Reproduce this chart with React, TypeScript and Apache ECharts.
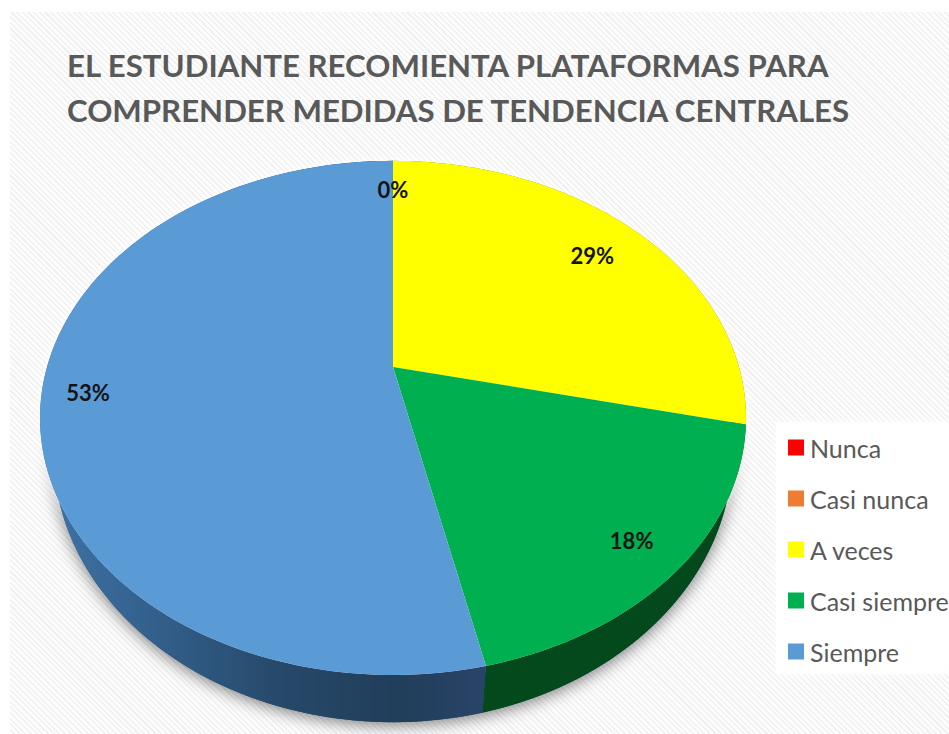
import React, { useEffect, useRef } from "react";
import * as echarts from "echarts";

const TITLE_LINES = [
  "EL ESTUDIANTE RECOMIENTA PLATAFORMAS PARA",
  "COMPRENDER MEDIDAS DE TENDENCIA CENTRALES",
];
const categories = ["Nunca", "Casi nunca", "A veces", "Casi siempre", "Siempre"];
const values = [0, 0, 28.55, 17.95, 53.45];
const colors = ["#FF0000", "#ED7D31", "#FFFF00", "#00B050", "#5B9BD5"];
const sideColors = ["#8a0000", "#7d3f14", "#808000", "#03491C", "#2A4D73"];

type Face = { cx: number; cy: number; a: number; b: number; k: number };
const TOP: Face = { cx: 393, cy: 367, a: 346, b: 247, k: -0.198 };
const BOTTOM: Face = { cx: 393, cy: 398, a: 333, b: 260, k: -0.198 };
const LABEL_RADII = [0.85, 0.85, 0.81, 0.86, 0.87];
const LABEL_DY = 2;
const total = values.reduce((s, v) => s + v, 0);

function project(f: Face, theta: number, r = 1): [number, number] {
  const u = Math.sin(theta) * r;
  const v = -Math.cos(theta) * r;
  const d = 1 + f.k * v;
  return [f.cx + (f.a * u) / d, f.cy + (f.b * v) / d];
}
function startOf(i: number) {
  return (values.slice(0, i).reduce((s, v) => s + v, 0) / total) * Math.PI * 2;
}
function endOf(i: number) {
  return startOf(i + 1);
}
function arc(f: Face, t0: number, t1: number): [number, number][] {
  const n = Math.max(2, Math.ceil(((t1 - t0) / (Math.PI * 2)) * 240));
  const pts: [number, number][] = [];
  for (let j = 0; j <= n; j++) pts.push(project(f, t0 + ((t1 - t0) * j) / n));
  return pts;
}

const sideFill = (i: number) =>
  i === 4
    ? new echarts.graphic.LinearGradient(
        40,
        0,
        490,
        0,
        [
          { offset: 0, color: "#3F74A8" },
          { offset: 0.25, color: "#33608C" },
          { offset: 0.55, color: "#264868" },
          { offset: 0.8, color: "#213E5B" },
          { offset: 1, color: "#2A4468" },
        ],
        true
      )
    : sideColors[i];

const renderSides = (params: any) => {
  const i = params.dataIndex;
  const children: any[] = [];
  if (i === 0) {
    children.push({
      type: "polygon",
      shape: { points: arc(BOTTOM, 0, Math.PI * 2) },
      style: {
        fill: "#2A4D73",
        shadowBlur: 16,
        shadowColor: "rgba(0,0,0,0.5)",
        shadowOffsetY: 3,
      },
    });
    children.push({
      type: "polygon",
      shape: { points: arc(TOP, 0, Math.PI * 2) },
      style: { fill: "#ffffff", shadowBlur: 10, shadowColor: "rgba(255,255,255,0.95)" },
    });
  }
  if (values[i] > 0) {
    const t0 = startOf(i);
    const t1 = endOf(i);
    children.push({
      type: "polygon",
      shape: { points: [...arc(TOP, t0, t1), ...arc(BOTTOM, t0, t1).reverse()] },
      style: { fill: sideFill(i) },
    });
  }
  return { type: "group", children };
};

const renderTop = (i: number) => () => {
  const children: any[] = [];
  const t0 = startOf(i);
  const t1 = endOf(i);
  if (values[i] > 0) {
    children.push({
      type: "polygon",
      shape: { points: [project(TOP, 0, 0), ...arc(TOP, t0, t1)] },
      style: { fill: colors[i] },
    });
  }
  return { type: "group", children };
};

const renderLabels = (params: any, api: any) => {
  const i = params.dataIndex;
  if (i === 1) return { type: "group", children: [] };
  const mid = (startOf(i) + endOf(i)) / 2;
  const [x, y] = project(TOP, mid, LABEL_RADII[i]);
  return {
    type: "text",
    x,
    y: y + LABEL_DY,
    style: {
      text: `${Math.round((api.value(0) / total) * 100)}%`,
      fill: "#141414",
      font: "bold 22px Lato, Carlito, sans-serif",
      align: "center",
      verticalAlign: "middle",
    },
  };
};

export default function App() {
  const ref = useRef<HTMLDivElement>(null);
  useEffect(() => {
    document.body.style.margin = "0";
    document.body.style.background = "#fff";
    const chart = echarts.init(ref.current!, null, { renderer: "svg" });
    chart.setOption({
      animation: false,
      backgroundColor: "transparent",
      title: {
        text: TITLE_LINES.join("\n"),
        left: 62,
        top: 37,
        textStyle: {
          color: "#595959",
          fontFamily: "Lato, Carlito, sans-serif",
          fontWeight: "bold",
          fontSize: 31.2,
          lineHeight: 45,
        },
      },
      legend: {
        data: categories,
        orient: "vertical",
        left: 783,
        top: 430,
        icon: "rect",
        itemWidth: 16,
        itemHeight: 16,
        itemGap: 26,
        selectedMode: false,
        textStyle: {
          color: "#595959",
          fontFamily: "Lato, Carlito, sans-serif",
          fontSize: 25,
          padding: [0, 0, 0, 1],
        },
      },
      graphic: [
        {
          type: "rect",
          z: -1,
          shape: { x: 776, y: 422, width: 173, height: 252 },
          style: { fill: "rgba(255,255,255,0.85)", shadowBlur: 10, shadowColor: "rgba(255,255,255,0.9)" },
        },
      ],
      series: [
        {
          type: "custom",
          name: "lateral",
          coordinateSystem: "none",
          silent: true,
          z: 2,
          data: values.map((v) => [v]),
          renderItem: renderSides,
        },
        ...categories.map((name, i) => ({
          type: "custom",
          name,
          coordinateSystem: "none",
          silent: true,
          z: 3,
          itemStyle: { color: colors[i] },
          data: [[values[i]]],
          renderItem: renderTop(i),
        })),
        {
          type: "custom",
          name: "etiquetas",
          coordinateSystem: "none",
          silent: true,
          z: 4,
          data: values.map((v) => [v]),
          renderItem: renderLabels,
        },
      ],
    });
    return () => chart.dispose();
  }, []);
  return (
    <div style={{ position: "relative", width: 949, height: 734, overflow: "hidden", background: "#fff" }}>
      <div
        style={{
          position: "absolute",
          left: 10,
          top: 12,
          right: 0,
          bottom: 0,
          background: "repeating-linear-gradient(45deg, #fdfdfd 0px, #fdfdfd 2.5px, #f0f0f0 2.5px, #f0f0f0 4px)",
        }}
      />
      <div ref={ref} style={{ position: "absolute", left: 0, top: 0, width: 949, height: 734 }} />
    </div>
  );
}
